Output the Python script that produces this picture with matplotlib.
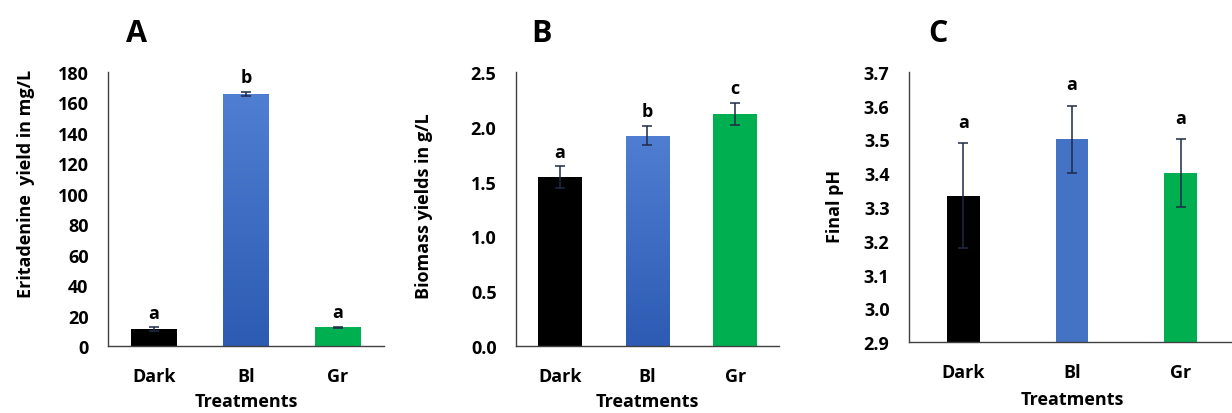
import matplotlib
matplotlib.use("Agg")
import matplotlib.pyplot as plt
import numpy as np
from matplotlib.colors import LinearSegmentedColormap

plt.rcParams['font.family'] = ['Open Sans', 'DejaVu Sans']
plt.rcParams['font.weight'] = 'bold'

# data
treatments = ['Dark', 'Bl', 'Gr']

eritadenine = [11.0, 165.5, 12.3]
eritadenine_err = [1.2, 1.5, 0.4]
eritadenine_sig = ['a', 'b', 'a']

biomass = [1.54, 1.92, 2.12]
biomass_err = [0.10, 0.09, 0.10]
biomass_sig = ['a', 'b', 'c']

final_ph = [3.333, 3.50, 3.40]
final_ph_err = [0.155, 0.10, 0.10]
final_ph_sig = ['a', 'a', 'a']

bar_colors = ['#000000', '#4472C4', '#00B050']
err_color = '#1F2A48'
spine_color = '#404040'
FS = 13

blue_grad = LinearSegmentedColormap.from_list('bg', ['#2D5BB3', '#4F7ED2'])


def gradient_bar(ax, bar, cmap):
    x0, y0 = bar.get_x(), bar.get_y()
    w, h = bar.get_width(), bar.get_height()
    grad = np.linspace(0, 1, 256).reshape(-1, 1)
    im = ax.imshow(grad, cmap=cmap, origin='lower', aspect='auto',
                   extent=[x0, x0 + w, y0, y0 + h], zorder=bar.get_zorder())
    im.set_clip_path(bar)
    bar.set_facecolor('none')


def panel(ax, values, errs, sigs, ylim, yticks, fmt, ylabel, width, grad_blue,
          sig_pad, ylab_xy, xlab_y):
    x = np.arange(len(treatments))
    bars = ax.bar(x, [v - ylim[0] for v in values], bottom=ylim[0], width=width,
                  color=bar_colors, zorder=2)
    if grad_blue:
        gradient_bar(ax, bars[1], blue_grad)
    ax.errorbar(x, values, yerr=errs, fmt='none', ecolor=err_color,
                elinewidth=1.1, capsize=3.5, capthick=1.1, zorder=3)
    for xi, v, e, s in zip(x, values, errs, sigs):
        ax.annotate(s, (xi, v + e), xytext=(0, sig_pad), textcoords='offset points',
                    ha='center', va='bottom', fontsize=FS, fontweight='bold')
    ax.set_xlim(-0.5, 2.5)
    ax.set_ylim(*ylim)
    ax.set_yticks(yticks)
    ax.set_yticklabels([fmt.format(t) for t in yticks])
    ax.set_xticks(x)
    ax.set_xticklabels(treatments)
    ax.tick_params(axis='both', length=0, labelsize=FS)
    ax.tick_params(axis='y', pad=14)
    ax.tick_params(axis='x', pad=15)
    for sp in ['top', 'right']:
        ax.spines[sp].set_visible(False)
    for sp in ['left', 'bottom']:
        ax.spines[sp].set_color(spine_color)
        ax.spines[sp].set_linewidth(1.0)
    ax.spines['bottom'].set_zorder(4)
    ax.set_ylabel(ylabel, fontsize=FS, fontweight='bold')
    ax.yaxis.set_label_coords(*ylab_xy)
    ax.set_xlabel('Treatments', fontsize=FS, fontweight='bold')
    ax.xaxis.set_label_coords(0.5, xlab_y)


fig = plt.figure(figsize=(12.32, 4.14), dpi=100)
axA = fig.add_axes([0.0877, 0.1618, 0.224, 0.662])
axB = fig.add_axes([0.4188, 0.1618, 0.2135, 0.662])
axC = fig.add_axes([0.7378, 0.1708, 0.2646, 0.6536])

panel(axA, eritadenine, eritadenine_err, eritadenine_sig, (0, 180),
      list(range(0, 181, 20)), '{:d}', 'Eritadenine  yield in mg/L', 0.5, True,
      4, (-0.265, 0.595), -0.168)
panel(axB, biomass, biomass_err, biomass_sig, (0, 2.5),
      [0, 0.5, 1.0, 1.5, 2.0, 2.5], '{:.1f}', 'Biomass yields in g/L', 0.5, True,
      4, (-0.315, 0.515), -0.168)
panel(axC, final_ph, final_ph_err, final_ph_sig, (2.9, 3.7),
      [2.9, 3.0, 3.1, 3.2, 3.3, 3.4, 3.5, 3.6, 3.7], '{:.1f}', 'Final pH', 0.3, False,
      9, (-0.2, 0.507), -0.175)

fig.text(137 / 1232, 1 - 34 / 414, 'A', fontsize=22, fontweight='bold', ha='center', va='center')
fig.text(542 / 1232, 1 - 34 / 414, 'B', fontsize=22, fontweight='bold', ha='center', va='center')
fig.text(938 / 1232, 1 - 34 / 414, 'C', fontsize=22, fontweight='bold', ha='center', va='center')

fig.savefig('out.png', dpi=100)
